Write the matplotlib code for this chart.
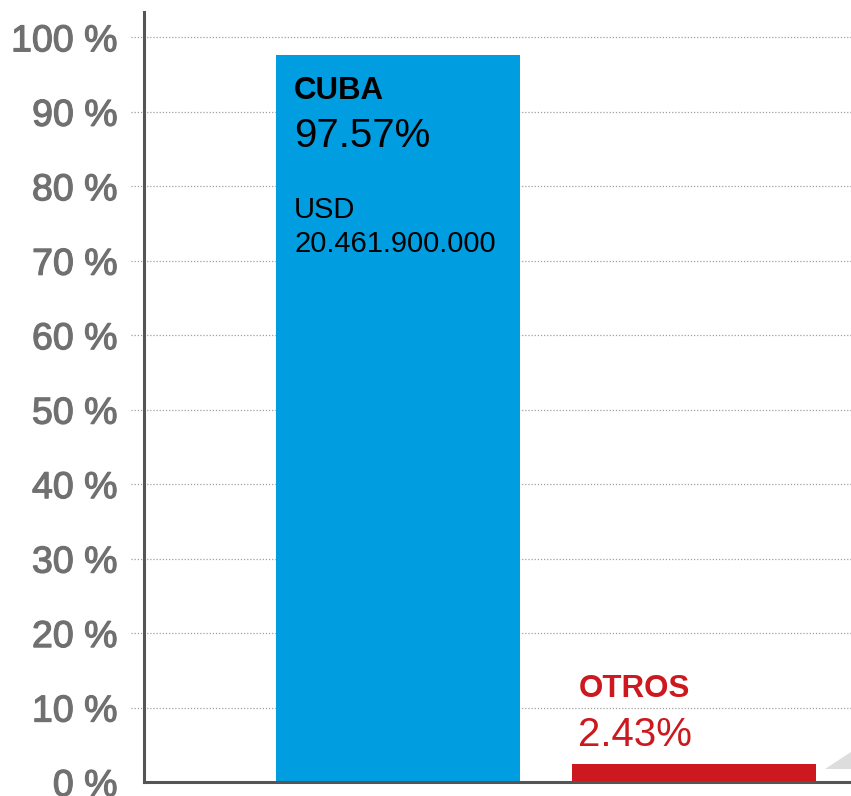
import matplotlib
matplotlib.use("Agg")
import matplotlib.pyplot as plt
import matplotlib.patheffects as pe
from matplotlib.patches import Polygon

categories = ["CUBA", "OTROS"]
values = [97.57, 2.43]
value_labels = ["97.57%", "2.43%"]
extra_label = "USD\n20.461.900.000"
yticks = [0, 10, 20, 30, 40, 50, 60, 70, 80, 90, 100]
ytick_labels = [f"{t} %" for t in yticks]

colors = ["#009EE0", "#CC181E"]
font = ["Liberation Sans", "DejaVu Sans"]
plt.rcParams["font.family"] = font

W, H = 851, 796
fig = plt.figure(figsize=(W / 100, H / 100), dpi=100)
ax = fig.add_axes([144 / W, (H - 782) / H, (W - 144) / W, (782 - 12) / H])

x = [0, 1]
width = 0.824
ax.bar(x, values, width=width, color=colors, zorder=2)
ax.set_xlim(-0.858, 1.530)
ax.set_ylim(0, 103.4)

tick_color = "#707070"
ax.set_yticks(yticks)
ax.set_yticklabels(ytick_labels, fontsize=27, color=tick_color)
for lbl in ax.get_yticklabels():
    lbl.set_path_effects([pe.withStroke(linewidth=0.9, foreground=tick_color)])
ax.tick_params(axis="y", length=0, pad=19)
ax.set_xticks([])

# dotted gridlines extending a bit left of the spine
for t in yticks[1:]:
    ax.plot([-0.018, 1.0], [t, t], transform=ax.get_yaxis_transform(),
            color="#a0a0a0", linestyle=(0, (1, 1.5)), linewidth=0.9,
            clip_on=False, zorder=1)

for s in ["top", "right"]:
    ax.spines[s].set_visible(False)
for s in ["left", "bottom"]:
    ax.spines[s].set_color("#555555")
    ax.spines[s].set_linewidth(2.2)
    ax.spines[s].set_zorder(3)

# CUBA labels (inside bar)
left0 = x[0] - width / 2
ax.annotate(categories[0], xy=(left0, values[0]), xytext=(13, -15),
            textcoords="offset points", ha="left", va="top",
            fontsize=22.5, fontweight="bold", color="black")
ax.annotate(value_labels[0], xy=(left0, values[0]), xytext=(13, -44.5),
            textcoords="offset points", ha="left", va="top",
            fontsize=29, color="black")
ax.annotate(extra_label, xy=(left0, values[0]), xytext=(13, -101),
            textcoords="offset points", ha="left", va="top",
            fontsize=21, color="black", linespacing=1.3)

# OTROS labels (above bar)
left1 = x[1] - width / 2
ax.annotate(value_labels[1], xy=(left1, values[1]), xytext=(4.5, 7),
            textcoords="offset points", ha="left", va="bottom",
            fontsize=29, color=colors[1])
ax.annotate(categories[1], xy=(left1, values[1]), xytext=(4.5, 43),
            textcoords="offset points", ha="left", va="bottom",
            fontsize=22.5, fontweight="bold", color=colors[1])

# decorative grey wedge at bottom right
tri = Polygon([[825 / W, (H - 769) / H], [851 / W, (H - 752) / H], [851 / W, (H - 769) / H]],
              closed=True, transform=fig.transFigure, facecolor="#dddddd",
              edgecolor="none")
fig.patches.append(tri)

fig.savefig("out.png", dpi=100)
